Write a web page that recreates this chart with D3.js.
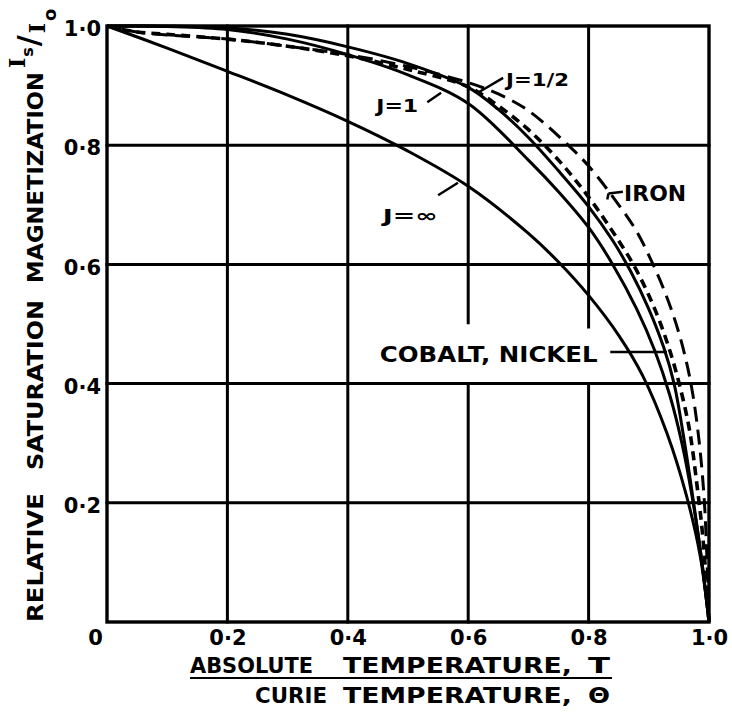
<!DOCTYPE html>
<html>
<head>
<meta charset="utf-8">
<script src="https://cdn.jsdelivr.net/npm/d3@7"></script>
<style>
  html, body { margin: 0; padding: 0; background: #fff; }
  svg text { font-family: "DejaVu Sans", "Liberation Sans", sans-serif; font-weight: bold; fill: #000; }
  svg text .serif { font-family: "DejaVu Serif", "Liberation Serif", serif; }
</style>
</head>
<body>
<svg id="chart" width="732" height="714"></svg>
<script>
// Axis ticks and their printed labels
const xTicks = [0, 0.2, 0.4, 0.6, 0.8, 1.0];
const xTickLabels = ["0", "0·2", "0·4", "0·6", "0·8", "1·0"];
const yTicks = [0.2, 0.4, 0.6, 0.8, 1.0];
const yTickLabels = ["0·2", "0·4", "0·6", "0·8", "1·0"];
const gridValues = [0.2, 0.4, 0.6, 0.8];

// Brillouin curve, J = infinity (classical limit)
const tJinf = [0, 0.1, 0.2, 0.3, 0.4, 0.5, 0.6, 0.7, 0.75, 0.8, 0.85, 0.89, 0.93, 0.962, 0.985, 1.0];
const mJinf = [1.0, 0.963, 0.924, 0.884, 0.840, 0.790, 0.731, 0.652, 0.604, 0.548, 0.481, 0.413, 0.317, 0.214, 0.113, 0.0];

// Brillouin curve, J = 1
const tJ1 = [0, 0.1, 0.2, 0.3, 0.4, 0.5, 0.6, 0.7, 0.75, 0.8, 0.84, 0.88, 0.91, 0.935, 0.955, 0.972, 0.987, 1.0];
const mJ1 = [1.0, 0.999, 0.994, 0.978, 0.952, 0.918, 0.870, 0.775, 0.722, 0.662, 0.600, 0.525, 0.455, 0.380, 0.300, 0.210, 0.110, 0.0];

// Brillouin curve, J = 1/2
const tJhalf = [0, 0.1, 0.2, 0.3, 0.4, 0.5, 0.6, 0.65, 0.7, 0.75, 0.8, 0.84, 0.87, 0.9, 0.925, 0.942, 0.958, 0.973, 0.987, 1.0];
const mJhalf = [1.0, 1.0, 0.997, 0.986, 0.965, 0.937, 0.897, 0.860, 0.813, 0.757, 0.697, 0.640, 0.588, 0.525, 0.460, 0.400, 0.310, 0.210, 0.110, 0.0];

// Measured values, cobalt and nickel
const tCoNi = [0, 0.05, 0.1, 0.2, 0.3, 0.4, 0.5, 0.6, 0.65, 0.7, 0.75, 0.8, 0.84, 0.877, 0.91, 0.935, 0.953, 0.968, 0.98, 0.99, 1.0];
const mCoNi = [1.0, 0.990, 0.986, 0.978, 0.966, 0.950, 0.927, 0.898, 0.866, 0.826, 0.775, 0.713, 0.655, 0.595, 0.525, 0.455, 0.390, 0.320, 0.230, 0.140, 0.0];

// Measured values, iron
const tIron = [0, 0.05, 0.1, 0.2, 0.3, 0.4, 0.5, 0.6, 0.65, 0.7, 0.766, 0.8, 0.85, 0.88, 0.907, 0.93, 0.95, 0.965, 0.975, 0.985, 0.993, 1.0];
const mIron = [1.0, 0.990, 0.985, 0.978, 0.966, 0.952, 0.932, 0.905, 0.886, 0.858, 0.800, 0.765, 0.700, 0.655, 0.600, 0.545, 0.485, 0.425, 0.370, 0.290, 0.190, 0.0];

const series = [
  { t: tJinf, m: mJinf, dash: null, width: 3 },
  { t: tJ1, m: mJ1, dash: null, width: 3 },
  { t: tJhalf, m: mJhalf, dash: null, width: 3 },
  { t: tCoNi, m: mCoNi, dash: "9,6", width: 3.6 },
  { t: tIron, m: mIron, dash: "15,8", width: 3 }
];

const svg = d3.select("#chart");
const x = d3.scaleLinear().domain([0, 1]).range([107, 709]);
const y = d3.scaleLinear().domain([0, 1]).range([622, 26]);

// Grid: vertical lines at 0.6 and 0.8 are broken to leave room for a label
const gridGaps = { 0.6: [0.4, 0.502], 0.8: [0.4, 0.495] };
const vSegments = [];
gridValues.forEach(v => {
  const g = gridGaps[v];
  if (g) { vSegments.push([v, 0, g[0]]); vSegments.push([v, g[1], 1]); }
  else vSegments.push([v, 0, 1]);
});
const grid = svg.append("g").attr("stroke", "#000").attr("stroke-width", 3).attr("stroke-linecap", "square");
grid.selectAll("line.v").data(vSegments).join("line").attr("class", "v")
  .attr("x1", d => x(d[0])).attr("x2", d => x(d[0]))
  .attr("y1", d => y(d[1])).attr("y2", d => y(d[2]));
grid.selectAll("line.h").data(gridValues).join("line").attr("class", "h")
  .attr("x1", x(0)).attr("x2", x(1))
  .attr("y1", d => y(d)).attr("y2", d => y(d));
svg.append("rect")
  .attr("x", x(0)).attr("y", y(1))
  .attr("width", x(1) - x(0)).attr("height", y(0) - y(1))
  .attr("fill", "none").attr("stroke", "#000").attr("stroke-width", 3.4);

// Curves
const line = d3.line().x(d => x(d[0])).y(d => y(d[1])).curve(d3.curveCatmullRom.alpha(0.5));
svg.append("g").selectAll("path").data(series).join("path")
  .attr("d", s => line(s.t.map((t, i) => [t, s.m[i]])))
  .attr("fill", "none").attr("stroke", "#000")
  .attr("stroke-width", s => s.width)
  .attr("stroke-dasharray", s => s.dash)
  .attr("stroke-linejoin", "round");

// Tick labels
const yAxis = d3.axisLeft(y).tickValues(yTicks).tickSize(0).tickPadding(0)
  .tickFormat((d, i) => yTickLabels[i]);
const gy = svg.append("g").attr("transform", "translate(101,3)").call(yAxis);
gy.select(".domain").remove();
gy.selectAll("text").attr("font-size", 21).attr("font-family", null);

const xAxis = d3.axisBottom(x).tickValues(xTicks).tickSize(0).tickPadding(8)
  .tickFormat((d, i) => xTickLabels[i]);
const gx = svg.append("g").attr("transform", "translate(0,622)").call(xAxis);
gx.select(".domain").remove();
gx.selectAll("text").attr("font-size", 21).attr("font-family", null)
  .attr("dx", (d, i) => i === 0 ? -12 : 0);

// Curve labels with leader lines (positions in data units)
const labels = [
  { text: "J=1/2", at: [0.663, 0.899], len: 63, size: 18, anchor: "start", lead: [[0.616, 0.888], [0.658, 0.913]] },
  { text: "J=1", at: [0.517, 0.856], len: 42, size: 18, anchor: "end", lead: [[0.532, 0.872], [0.555, 0.888]] },
  { text: "J=∞", at: [0.458, 0.671], len: 55, size: 18, anchor: "start", lead: [[0.550, 0.716], [0.583, 0.737]] },
  { text: "IRON", at: [0.859, 0.706], len: 62, size: 21, anchor: "start", lead: [[0.833, 0.719], [0.857, 0.722]] },
  { text: "COBALT, NICKEL", at: [0.453, 0.436], len: 218, size: 22, anchor: "start", lead: [[0.836, 0.453], [0.930, 0.453]] }
];
const lab = svg.append("g");
labels.forEach(l => {
  lab.append("text")
    .attr("x", x(l.at[0])).attr("y", y(l.at[1]))
    .attr("font-size", l.size).attr("text-anchor", l.anchor)
    .attr("textLength", l.len).attr("lengthAdjust", "spacingAndGlyphs")
    .text(l.text);
  lab.append("line")
    .attr("x1", x(l.lead[0][0])).attr("y1", y(l.lead[0][1]))
    .attr("x2", x(l.lead[1][0])).attr("y2", y(l.lead[1][1]))
    .attr("stroke", "#000").attr("stroke-width", 2.5);
});
// small hook on the iron leader
lab.append("line")
  .attr("x1", x(0.833)).attr("y1", y(0.719))
  .attr("x2", x(0.831)).attr("y2", y(0.709))
  .attr("stroke", "#000").attr("stroke-width", 2.5);

// Y axis title, read bottom to top
const yTitle = svg.append("g").attr("transform", "translate(43,0) rotate(-90)");
[["RELATIVE", 622, 129], ["SATURATION", 470, 170], ["MAGNETIZATION", 283, 211]].forEach(w => {
  yTitle.append("text").attr("x", -w[1]).attr("y", 0)
    .attr("font-size", 22).attr("textLength", w[2]).attr("lengthAdjust", "spacingAndGlyphs")
    .text(w[0]);
});
// Ratio Is/Io at the top of the y title
const ratio = svg.append("g").attr("transform", "translate(25,68) rotate(-90)");
const rt = ratio.append("text").attr("font-size", 22);
rt.append("tspan").attr("class", "serif").text("I");
rt.append("tspan").attr("font-size", 16).attr("dx", 1).attr("dy", 8).text("s");
rt.append("tspan").attr("font-size", 30).attr("dx", 1).attr("dy", 6).text("/");
rt.append("tspan").attr("class", "serif").attr("font-size", 22).attr("dx", 2).attr("dy", 6).text("I");
rt.append("tspan").attr("font-size", 18).attr("dx", 2).attr("dy", 11).text("o");

// X axis title as a fraction
const xTitle = svg.append("g");
[["ABSOLUTE", 190, 673, 123], ["TEMPERATURE,", 343, 673, 229], ["T", 588, 673, 22],
 ["CURIE", 255, 703, 72], ["TEMPERATURE,", 343, 703, 229], ["Θ", 588, 703, 22]].forEach(w => {
  xTitle.append("text").attr("x", w[1]).attr("y", w[2])
    .attr("font-size", 22).attr("textLength", w[3]).attr("lengthAdjust", "spacingAndGlyphs")
    .text(w[0]);
});
xTitle.append("line").attr("x1", 190).attr("x2", 612).attr("y1", 678).attr("y2", 678)
  .attr("stroke", "#000").attr("stroke-width", 2);
</script>
</body>
</html>
